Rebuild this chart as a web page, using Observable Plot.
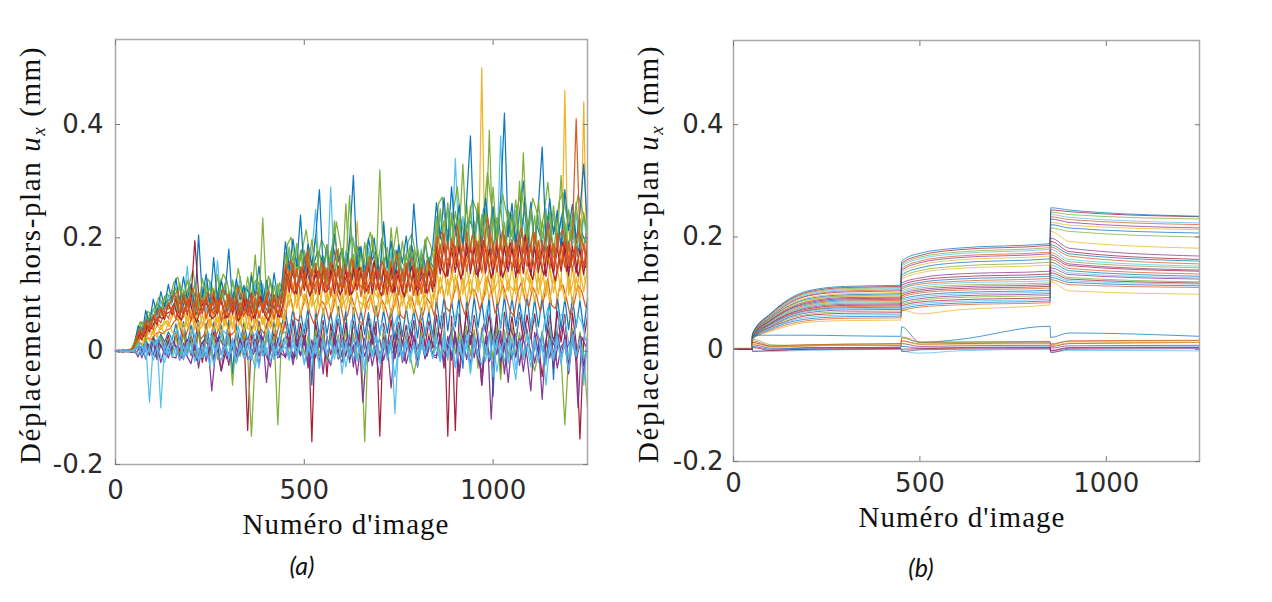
<!DOCTYPE html>
<html><head><meta charset="utf-8">
<script src="https://cdn.jsdelivr.net/npm/d3@7"></script>
<script src="https://cdn.jsdelivr.net/npm/@observablehq/plot@0.6"></script>
<style>
html,body{margin:0;padding:0;background:#fff;}
body{width:1272px;height:602px;position:relative;overflow:hidden;}
.panel{position:absolute;top:0;}
.ylab{position:absolute;font-family:"Liberation Serif","Times New Roman",Times,serif;font-size:29px;letter-spacing:1.6px;color:#111;white-space:nowrap;transform:translate(-50%,-50%) rotate(-90deg);line-height:29px;}
.ylab i{font-style:italic;}
.ylab sub{font-size:19px;vertical-align:-5px;line-height:0;}
.xlab{position:absolute;font-family:"Liberation Serif","Times New Roman",Times,serif;font-size:29px;letter-spacing:1px;color:#111;white-space:nowrap;transform:translateX(-50%);line-height:29px;}
.cap{position:absolute;font-family:Lato,"Open Sans",sans-serif;font-style:italic;font-size:25px;color:#111;transform:translate(-50%,-50%);line-height:25px;}
</style>
</head><body>
<div id="pa" class="panel" style="left:0px"></div>
<div id="pb" class="panel" style="left:620px"></div>
<div class="ylab" style="left:30px;top:255px">Déplacement hors-plan <i>u<sub>x</sub></i> (mm)</div>
<div class="ylab" style="left:648px;top:254px">Déplacement hors-plan <i>u<sub>x</sub></i> (mm)</div>
<div class="xlab" style="left:346px;top:510px">Numéro d'image</div>
<div class="xlab" style="left:962px;top:503px">Numéro d'image</div>
<div class="cap" style="left:302px;top:565px">(a)</div>
<div class="cap" style="left:921px;top:567px">(b)</div>
<script>
// ---- colours (MATLAB default order) ----
const BLUE = "#0072BD", ORANGE = "#D95319", YELLOW = "#EDB120", PURPLE = "#7E2F8E",
      GREEN = "#77AC30", CYAN = "#4DBEEE", DARKRED = "#A2142F";

// ---- axis ticks ----
const xTicks = [0, 500, 1000];
const yTicksUm = [-200, 0, 200, 400];          // micrometres, labelled in mm
const xDomain = [0, 1250];
const yDomainUm = [-200, 550];

// ---- panel (a): raw noisy displacement (µm) ----
// series sampled at images 0,10,...,1250
const framesA = d3.range(0, 1251, 10);
// series sampled at images 5,15,...,1245
const framesA2 = d3.range(5, 1250, 10);

const a_blue1 = [1,-2,2,0,-1,12,
45,28,72,50,92,64,105,78,118,86,
128,84,131,92,119,78,205,95,136,81,165,88,124,99,180,83,127,90,116,75,133,97,150,86,125,79,138,92,114,
193,141,198,150,240,137,189,152,201,285,144,187,133,206,158,181,139,196,310,148,185,128,199,161,176,135,228,147,194,130,188,156,203,142,260,171,134,195,149,183,
262,198,271,190,290,205,258,187,266,380,196,249,183,270,208,255,191,268,420,202,261,185,244,300,199,263,188,257,360,194,269,206,248,181,285,213,259,193,246,330,218];
const a_green1 = [2,-1,3,0,1,16,
30,52,38,66,55,84,70,97,82,108,
78,121,85,126,93,118,74,129,96,112,81,135,90,120,77,124,98,116,83,131,88,170,79,235,94,123,86,119,91,
136,184,142,190,131,178,150,197,138,175,127,188,146,230,133,181,148,275,135,186,129,192,144,205,139,320,151,183,126,179,143,194,137,187,130,182,145,198,134,176,
186,251,195,262,183,247,201,330,190,256,178,262,197,244,185,290,192,258,180,249,203,267,188,350,196,253,182,265,199,246,187,257,194,310,181,250,198,263,189,245,205];
const a_green2 = [0,2,-1,1,0,10,
22,40,31,57,46,72,61,86,74,95,
112,70,108,76,115,68,104,81,119,72,110,66,128,79,106,73,117,64,109,83,139,71,113,77,102,69,116,80,107,
174,126,169,131,178,124,172,135,205,128,167,121,176,133,181,127,260,136,171,122,177,130,168,125,180,137,166,119,218,132,175,126,170,138,179,123,173,129,165,134,
238,172,231,180,244,168,235,177,260,174,229,166,241,183,390,171,236,179,227,169,242,176,300,173,233,181,239,165,230,178,245,170,237,182,228,175,243,167,234,180,226];
const a_cyan1 = [-1,1,0,2,-1,14,
38,24,60,42,75,58,88,70,99,80,
71,117,79,150,74,121,83,113,68,124,77,160,86,118,72,126,80,132,70,115,88,123,76,119,81,127,73,112,85,
127,173,134,179,122,170,138,176,250,131,168,125,290,136,172,120,177,133,200,129,174,123,181,137,169,126,222,132,175,121,178,135,171,128,176,124,180,139,167,130,
178,241,186,249,175,340,183,238,172,246,189,236,176,251,181,243,170,380,187,240,177,248,184,235,173,245,190,239,179,252,174,242,185,237,171,247,182,244,176,238,188];
const a_orange1 = [1,0,-2,1,2,10,
35,22,52,38,64,50,76,60,86,68,
98,62,101,66,95,59,104,70,97,63,106,68,93,61,100,72,96,58,103,67,99,64,94,71,102,60,97,65,92,
152,110,156,106,149,113,180,108,155,112,151,104,158,115,147,109,154,107,160,111,148,105,157,114,150,108,153,103,159,116,146,110,156,106,152,112,149,107,155,113,
201,150,207,146,198,153,205,144,210,149,196,155,203,147,208,151,199,143,204,152,197,148,206,154,200,145,209,150,195,156,202,146,207,149,198,153,203,410,199,147,205];
const a_orange2 = [0,1,-1,0,1,8,
18,34,26,48,38,60,50,70,58,78,
56,90,60,93,54,88,62,95,57,86,64,91,52,89,59,96,55,87,61,92,53,95,58,85,63,90,56,94,60,
100,142,104,146,98,139,106,144,101,140,107,147,97,141,103,145,99,138,105,148,96,143,102,139,108,146,100,141,104,137,99,145,103,140,98,147,101,142,106,139,
142,188,146,193,139,185,148,190,141,187,150,194,138,186,145,191,140,189,147,184,143,192,137,188,149,186,142,195,144,183,146,190,139,187,148,192,141,185,145,189,143];
const a_darkred1 = [-1,0,1,-1,0,9,
30,20,48,34,62,46,74,56,84,64,
96,60,99,64,93,195,101,67,95,61,98,66,92,58,100,65,97,59,94,63,102,57,96,68,91,62,99,60,95,
146,104,149,101,143,107,151,103,145,100,148,106,142,102,150,105,144,99,147,108,141,103,152,101,146,107,143,100,149,104,145,102,151,106,144,99,148,103,142,105,
184,136,188,132,181,139,186,134,190,137,183,131,187,138,180,135,189,133,185,140,182,130,186,137,191,134,184,139,181,132,188,136,183,141,187,133,185,138,180,135,186];
const a_yellow1 = [2,1,3,2,1,6,
14,28,20,38,30,46,38,54,44,60,
74,40,77,43,71,38,79,45,73,41,76,37,70,44,78,39,72,46,75,42,80,36,73,47,69,40,77,43,71,
117,80,121,76,114,83,119,78,123,75,116,82,112,79,120,77,118,84,113,230,122,76,115,81,119,74,117,83,121,78,114,80,120,75,116,82,118,79,113,77,
146,102,150,98,143,105,148,100,152,97,145,104,500,99,147,103,151,96,144,106,149,101,153,98,146,104,142,100,150,97,148,103,145,107,460,99,147,102,143,105,149];
const a_yellow2 = [1,3,0,2,4,5,
20,10,30,18,38,24,46,30,52,34,
28,62,31,65,26,60,33,66,29,58,35,63,27,61,32,67,25,59,34,64,30,57,36,62,28,66,31,60,33,
66,104,70,107,63,101,72,105,67,109,64,102,69,106,62,100,71,108,65,103,68,99,73,107,61,104,70,101,66,106,63,102,72,98,67,105,64,103,69,100,
88,132,92,128,85,135,90,130,87,127,94,133,86,129,91,136,84,131,93,126,89,134,85,130,92,128,87,137,90,125,86,132,93,129,88,135,84,131,91,440,89];
const a_blue2 = [0,-1,1,0,-2,3,
12,2,20,8,26,12,30,16,34,20,
48,14,52,10,46,17,54,-15,49,12,51,16,45,9,55,-40,47,13,50,18,44,11,53,15,48,8,52,14,46,
72,28,76,24,70,31,78,-60,73,26,75,30,69,22,79,27,71,-20,77,25,74,29,68,23,80,28,72,32,75,21,70,26,77,30,73,24,76,27,71,25,
92,40,96,36,89,43,98,-30,93,38,95,42,88,35,99,-80,91,41,97,37,94,44,87,39,100,36,92,43,96,34,90,-50,98,40,93,38,95,42,89,37,94];
const a_darkred2 = [1,-1,0,2,0,2,
10,-5,18,2,22,-4,26,6,28,0,
34,-2,36,-5,30,1,38,-20,33,-3,35,0,-35,-6,37,2,31,-4,36,-140,32,-1,38,-8,30,3,34,-12,29,
52,8,55,5,49,11,57,-160,51,7,54,-45,48,10,56,6,50,-15,53,9,47,4,58,12,52,-150,49,8,55,3,51,11,46,7,54,-25,50,9,53,6,
64,15,68,-150,62,-140,66,18,70,12,63,20,-60,16,67,14,65,-40,69,17,61,13,68,19,64,22,66,15,-45,18,63,12,70,16,65,-35,67,14,-155,19,62];
const a_green3 = [0,0,1,-1,0,4,
20,-8,24,-4,18,-10,26,-2,22,-6,
26,-10,30,-6,24,-12,32,-2,28,-8,27,-14,33,-5,25,-60,29,-9,31,-3,-150,-11,28,-7,30,-4,26,-130,31,
34,-10,30,-14,36,-6,28,-12,38,-8,32,-16,35,-4,29,-11,37,-9,31,-13,33,-160,36,-7,30,-15,34,-5,27,-10,39,-12,32,-8,-40,-6,35,-14,31,-9,
40,-10,36,-16,42,-5,34,-12,44,-8,38,-30,41,-6,35,-14,43,-50,37,-11,45,-7,33,-15,39,-9,-35,-4,36,-13,42,-18,38,-10,-130,-8,40,-12,34,-6,-100];
const a_purple1 = [0,1,-1,0,1,-2,
10,-12,14,-8,16,-15,12,-6,18,-10,
-12,18,-15,20,-8,22,-30,16,-10,19,-18,24,-6,17,-25,21,-11,23,-7,15,-14,20,-9,25,-55,18,-13,22,-5,
-10,26,-15,22,-8,28,-22,20,-12,24,-40,27,-6,21,-14,25,-9,29,-28,19,-11,23,-18,26,-7,-50,24,-10,28,-13,21,-20,25,-8,27,-14,22,-5,26,-9,
-12,30,-20,26,-8,34,-35,24,-15,28,-12,32,-60,25,-18,29,-6,36,-40,27,-14,31,-25,23,-10,-70,33,-7,30,-18,26,-30,35,-9,28,-22,31,-13,27,-45,29];
const a_purple2 = [-1,0,1,-1,0,1,
-10,8,-14,10,-6,12,-20,6,-12,9,
10,-16,14,-10,-22,12,-8,16,-18,9,-12,18,-35,11,-6,15,-20,8,17,-14,-5,13,-24,16,-3,-28,14,-11,8,
-12,16,-24,12,-8,20,-30,10,14,-18,18,-10,-25,15,-4,-20,19,-14,11,-42,13,-9,17,-26,9,21,-16,12,-65,15,-10,18,-22,8,14,-28,16,-13,11,-6,
-8,22,-30,14,-16,26,-45,12,18,-24,24,-14,-38,20,-4,-28,23,-18,15,-55,16,-11,22,-36,10,28,-21,13,-85,18,-12,24,-30,8,17,-40,20,-16,12,-26,11];
const a_cyan2 = [0,1,0,-1,1,2,
12,-8,16,-90,10,20,-100,14,-6,18,
-8,20,-14,16,-4,24,-18,12,-10,22,-25,15,-6,19,-12,23,-20,14,-3,21,-16,17,-30,18,-7,22,-15,13,-2,
18,-12,24,-8,20,-22,16,-10,26,-30,22,-6,19,-14,25,-40,17,-9,23,-18,21,-26,15,-5,27,-12,20,-16,24,-110,18,-8,22,-20,16,-11,25,-7,19,-13,
22,-15,28,-10,24,-28,20,-12,30,-35,26,-8,23,-18,32,-45,21,-11,27,-22,25,-32,19,-6,31,-15,24,-20,28,-25,22,-10,26,-24,20,-14,29,-9,23,-60,25];
const a_cyan3 = [1,-1,0,1,-1,0,
-6,10,-12,6,-16,9,-8,-20,7,-10,
6,-14,10,-7,13,-19,5,-11,8,-25,12,-6,-16,9,-9,14,-22,7,-12,10,-5,-30,11,-8,6,-18,9,-10,5,
7,-16,12,-9,15,-24,8,-13,11,-30,14,-7,-20,10,-11,17,-28,9,-14,12,-6,-38,13,-10,8,-22,11,-12,7,-45,10,-15,16,-8,9,-26,12,-7,14,-10,
8,-19,14,-11,18,-30,9,-16,13,-40,16,-8,-24,12,-13,20,-36,10,-18,14,-7,-50,15,-12,9,-28,13,-14,8,-60,11,-17,19,-9,10,-34,14,-8,16,-12,7];

// offset-sampled series (images 5, 15, ..., 1245)
const n_green = [0,2,1,-1,3,28,
52,41,70,66,78,95,84,101,97,
122,131,96,88,118,142,101,79,93,127,115,84,108,136,124,90,99,146,112,83,77,119,128,104,92,133,110,86,121,99,
188,201,152,147,179,214,166,139,158,196,183,150,172,228,191,143,161,205,177,149,140,186,210,168,155,199,181,146,174,219,160,151,193,207,171,138,165,202,185,157,
259,272,218,205,247,290,231,199,226,268,251,212,240,315,262,201,228,277,245,209,196,255,284,236,219,270,248,207,243,298,224,211,265,280,238,195,232,276,253,222];
const n_orange = [1,0,-1,2,0,18,
40,33,55,49,62,74,68,80,85,
99,107,78,70,92,111,83,66,75,103,94,69,88,109,98,73,80,115,91,67,62,96,104,86,74,108,90,71,97,82,
150,161,121,116,143,170,132,110,126,157,146,119,138,180,152,113,129,164,141,118,111,148,167,134,123,158,144,115,139,173,128,120,154,165,136,109,131,160,147,125,
199,210,166,156,190,222,177,151,172,205,193,161,184,236,201,153,174,213,188,159,149,196,218,181,167,207,190,157,186,228,171,162,203,215,183,148,178,211,194,169];
const n_darkred = [-1,1,0,0,-2,14,
32,26,45,40,52,61,57,66,70,
84,62,55,79,91,68,51,74,88,80,57,63,94,77,59,71,86,53,66,90,82,58,75,97,64,54,81,72,60,87,
136,112,101,129,146,118,97,124,141,133,104,110,152,127,99,119,139,100,115,148,131,106,123,160,113,98,134,122,103,143,117,96,128,150,109,121,137,102,126,114,
176,146,131,168,189,153,127,160,182,171,135,143,195,165,129,155,180,130,149,191,170,138,158,205,146,126,174,157,134,185,150,124,165,193,141,156,178,132,162,148];
const n_yellow = [2,1,2,3,1,9,
22,18,33,29,40,47,44,52,58,
72,79,50,44,65,83,57,40,48,76,68,45,61,80,71,47,53,88,63,42,38,67,75,58,49,78,64,43,70,55,
119,128,92,87,112,137,101,82,96,125,116,89,107,145,120,84,98,132,111,88,81,117,134,104,94,127,113,86,109,140,99,91,122,131,106,80,100,129,118,95,
152,163,121,113,144,172,131,108,126,158,148,117,139,185,154,110,128,166,142,115,106,150,170,136,122,161,145,112,140,178,125,118,156,168,137,104,132,164,149,120];
const n_blue = [0,-1,1,2,0,20,
44,37,60,55,68,80,74,88,92,
104,76,69,97,113,84,65,92,108,99,72,79,118,95,70,87,106,66,83,112,101,73,91,125,80,68,100,89,75,109,
168,140,127,160,181,146,121,154,176,165,131,138,190,158,124,149,172,125,143,184,163,133,152,200,141,122,167,151,129,178,147,119,159,186,136,150,171,128,156,144,
226,190,172,216,241,197,166,207,234,221,177,186,252,212,170,201,230,171,193,245,219,180,205,270,189,165,224,203,175,238,198,162,213,249,184,200,228,174,209,192];
const n_cyan = [0,1,-1,0,1,3,
14,5,-2,20,11,26,8,-4,18,
30,38,2,-8,22,41,9,-12,1,33,26,-5,17,36,29,-3,6,44,20,-9,-15,24,35,13,-1,39,18,-7,27,10,
42,51,10,2,35,58,19,-5,12,48,40,5,28,62,44,0,16,55,33,-2,-10,38,57,24,8,50,31,-3,37,60,14,4,46,53,26,-8,20,49,39,11,
55,66,18,8,46,74,29,-2,22,61,52,12,40,80,57,5,27,70,44,3,-6,50,72,34,15,64,41,6,48,77,24,10,59,68,36,-4,30,63,51,19];
const n_purple = [1,0,-1,1,0,-3,
8,-6,12,2,-10,15,5,-8,10,
18,-4,-12,14,24,1,-16,8,20,12,-70,-2,26,10,-14,3,19,-9,6,22,15,-6,9,28,-1,-18,13,4,-11,21,
26,2,-10,20,33,8,-15,14,29,22,-5,3,38,17,-12,9,27,-8,12,31,-90,1,16,42,6,-14,24,11,-4,30,7,-17,18,35,0,13,28,-9,19,5,
34,6,-8,27,42,12,-14,20,38,30,-3,8,48,24,-120,15,36,-6,18,40,25,4,22,52,10,-13,32,17,-2,39,12,-16,26,45,5,19,37,-100,25,9];
const n_orange2 = [0,1,2,0,1,7,
15,11,24,20,29,34,31,37,40,
52,58,31,25,45,63,37,21,29,55,48,26,41,60,50,28,34,67,43,23,19,46,56,39,30,59,44,24,51,36,
84,92,58,53,76,100,66,49,62,89,81,55,72,105,86,51,64,96,75,54,47,82,98,68,60,91,78,52,73,102,63,57,87,95,70,46,65,93,83,61,
106,115,77,70,98,124,87,65,82,111,102,73,93,132,108,67,84,119,96,71,62,104,122,89,79,113,99,69,94,128,81,75,109,117,91,60,86,116,105,78];

// ---- panel (b): filtered displacement at key images (µm) ----
const framesB = [0, 50, 51, 100, 150, 200, 300, 449, 451, 500, 600, 849, 851, 900, 1250];
const b01 = [0,0,28,64,90,104,112,114,157,171,180,188,252,248,237];
const b02 = [0,0,27,63,88,102,110,112,153,167,177,185,248,245,236];
const b03 = [0,0,27,62,87,100,108,110,150,164,173,181,244,240,232];
const b04 = [0,0,26,60,85,98,106,108,147,161,170,178,240,235,225];
const b05 = [0,0,26,60,84,96,104,106,143,157,166,173,236,231,222];
const b06 = [0,0,25,58,82,95,102,104,140,154,163,170,232,226,216];
const b07 = [0,0,25,57,80,92,99,101,136,150,159,166,226,221,213];
const b08 = [0,0,25,56,78,90,97,99,132,145,154,161,222,216,207];
const b09 = [0,0,24,55,77,88,95,97,128,140,148,155,216,210,200];
const b10 = [0,0,24,54,75,86,94,95,124,136,144,150,210,192,180];
const b11 = [0,0,24,53,74,85,92,93,118,127,134,139,198,180,166];
const b12 = [0,0,23,52,72,83,90,91,114,123,129,134,192,174,160];
const b13 = [0,0,23,51,71,81,88,89,110,119,125,130,186,170,157];
const b14 = [0,0,23,50,69,79,86,87,107,116,121,126,182,166,152];
const b15 = [0,0,22,48,67,77,84,85,104,112,118,122,178,160,148];
const b16 = [0,0,22,48,66,76,82,83,101,109,114,118,172,156,145];
const b17 = [0,0,22,47,64,74,80,81,98,106,111,115,168,152,141];
const b18 = [0,0,22,46,63,72,78,79,95,103,108,112,164,149,139];
const b19 = [0,0,21,45,61,70,76,77,92,100,105,109,160,144,134];
const b20 = [0,0,21,44,60,69,74,75,89,96,101,105,155,140,130];
const b21 = [0,0,21,43,58,67,72,73,86,93,98,102,150,136,127];
const b22 = [0,0,20,41,57,65,70,71,83,90,95,99,145,133,125];
const b23 = [0,0,20,40,55,62,67,68,80,87,92,96,140,128,120];
const b24 = [0,0,20,39,52,60,64,65,77,84,88,92,136,125,118];
const b25 = [0,0,19,37,50,57,61,62,74,81,85,89,132,122,116];
const b26 = [0,0,19,36,48,54,58,59,71,78,82,86,128,119,113];
const b27 = [0,0,18,34,45,51,55,56,68,75,79,83,124,115,110];
const b28 = [0,0,18,32,42,48,51,52,70,63,70,79,120,104,98];
const b29 = [0,0,25,25,25,25,24,23,40,12,17,41,21,29,23];
const b30 = [0,0,18,8,7,8,9,10,20,12,12,13,10,14,15];
const b31 = [0,0,15,6,7,8,9,10,22,13,13,14,8,15,16];
const b32 = [0,0,12,5,5,6,7,7,15,9,10,11,5,10,12];
const b33 = [0,0,8,2,2,3,3,4,10,5,6,7,2,6,7];
const b34 = [0,0,-3,-4,-3,-2,-1,0,-2,-7,-3,0,-5,-2,-3];
const b35 = [0,0,5,0,1,2,3,3,5,2,3,4,-2,3,4];
const b36 = [2,2,10,4,5,6,7,8,14,9,9,10,6,11,12];
const b37 = [0,0,-4,-2,-1,0,0,1,-4,-1,0,1,-6,0,1];
const b38 = [0,0,3,-2,-1,0,1,1,0,1,2,3,-3,2,3];

// ---- assemble ----
const seriesA = [
  ["a_blue2", BLUE, a_blue2, framesA], ["a_darkred2", DARKRED, a_darkred2, framesA],
  ["n_orange2", ORANGE, n_orange2, framesA2],
  ["a_yellow2", YELLOW, a_yellow2, framesA], ["n_yellow", YELLOW, n_yellow, framesA2],
  ["a_yellow1", YELLOW, a_yellow1, framesA],
  ["a_cyan1", CYAN, a_cyan1, framesA], ["n_blue", BLUE, n_blue, framesA2],
  ["a_green2", GREEN, a_green2, framesA], ["n_green", GREEN, n_green, framesA2],
  ["a_blue1", BLUE, a_blue1, framesA], ["a_green1", GREEN, a_green1, framesA],
  ["n_darkred", DARKRED, n_darkred, framesA2], ["a_darkred1", DARKRED, a_darkred1, framesA],
  ["a_orange2", ORANGE, a_orange2, framesA], ["n_orange", ORANGE, n_orange, framesA2],
  ["a_orange1", ORANGE, a_orange1, framesA], ["a_green3", GREEN, a_green3, framesA],
  ["a_purple1", PURPLE, a_purple1, framesA], ["n_purple", PURPLE, n_purple, framesA2],
  ["a_purple2", PURPLE, a_purple2, framesA], ["n_cyan", CYAN, n_cyan, framesA2],
  ["a_cyan3", CYAN, a_cyan3, framesA], ["a_cyan2", CYAN, a_cyan2, framesA]
];
const seriesB = [
  ["b28", YELLOW, b28], ["b27", ORANGE, b27], ["b26", BLUE, b26], ["b25", CYAN, b25],
  ["b24", DARKRED, b24], ["b23", GREEN, b23], ["b22", PURPLE, b22], ["b21", CYAN, b21],
  ["b20", BLUE, b20], ["b19", ORANGE, b19], ["b18", DARKRED, b18], ["b17", PURPLE, b17],
  ["b16", GREEN, b16], ["b15", CYAN, b15], ["b14", ORANGE, b14], ["b13", BLUE, b13],
  ["b12", DARKRED, b12], ["b11", PURPLE, b11], ["b10", YELLOW, b10], ["b09", GREEN, b09],
  ["b08", BLUE, b08], ["b07", YELLOW, b07], ["b06", PURPLE, b06], ["b05", ORANGE, b05],
  ["b04", CYAN, b04], ["b03", GREEN, b03], ["b02", DARKRED, b02], ["b01", BLUE, b01],
  ["b29", BLUE, b29], ["b30", GREEN, b30], ["b31", ORANGE, b31], ["b32", DARKRED, b32],
  ["b33", PURPLE, b33], ["b34", CYAN, b34], ["b35", BLUE, b35], ["b36", YELLOW, b36],
  ["b37", PURPLE, b37], ["b38", DARKRED, b38]
].map(s => [...s, framesB]);
function rows(series) {
  return series.flatMap(([name, color, values, frames]) =>
    values.map((v, i) => ({series: name, color, frame: frames[i], um: v}))
          .filter(d => d.frame !== undefined));
}
const rowsA = rows(seriesA);
const rowsB = rows(seriesB);

const FRAME = "#a9a9a9", TICK = "#7a7a7a", TEXT = "#2b2b2b";
function panel(data, o) {
  return Plot.plot({
    width: o.width, height: o.height,
    marginLeft: o.ml, marginRight: o.mr, marginTop: o.mt, marginBottom: o.mb,
    style: {background: "transparent", overflow: "visible"},
    x: {domain: xDomain, label: null},
    y: {domain: yDomainUm, label: null},
    color: {type: "identity"},
    marks: [
      Plot.line(data, {x: "frame", y: "um", z: "series", stroke: d => d.color,
                       strokeWidth: o.sw, strokeOpacity: o.so, curve: o.curve}),
      Plot.frame({stroke: FRAME, strokeWidth: 1.5}),
      Plot.axisX(xTicks, {anchor: "bottom", tickSize: -5, tickPadding: o.xpad, stroke: TICK,
                          fill: TEXT, fontSize: 26, fontFamily: "DejaVu Sans", label: null,
                          tickFormat: d => String(d)}),
      Plot.axisX(xTicks, {anchor: "top", tickSize: -5, stroke: TICK, label: null, tickFormat: () => ""}),
      Plot.axisY(yTicksUm, {anchor: "left", tickSize: -5, tickPadding: o.ypad, stroke: TICK,
                            fill: TEXT, fontSize: 26, fontFamily: "DejaVu Sans", label: null,
                            tickFormat: d => String(d / 1000)}),
      Plot.axisY(yTicksUm, {anchor: "right", tickSize: -5, stroke: TICK, label: null, tickFormat: () => ""})
    ]
  });
}
document.getElementById("pa").append(panel(rowsA, {
  width: 620, height: 540, ml: 115, mr: 33, mt: 39, mb: 76,
  sw: 1.25, so: 0.95, curve: "linear", xpad: 21, ypad: 17
}));
document.getElementById("pb").append(panel(rowsB, {
  width: 652, height: 540, ml: 113, mr: 73, mt: 40, mb: 79,
  sw: 0.85, so: 0.85, curve: "monotone-x", xpad: 17, ypad: 15
}));
</script>
</body></html>
